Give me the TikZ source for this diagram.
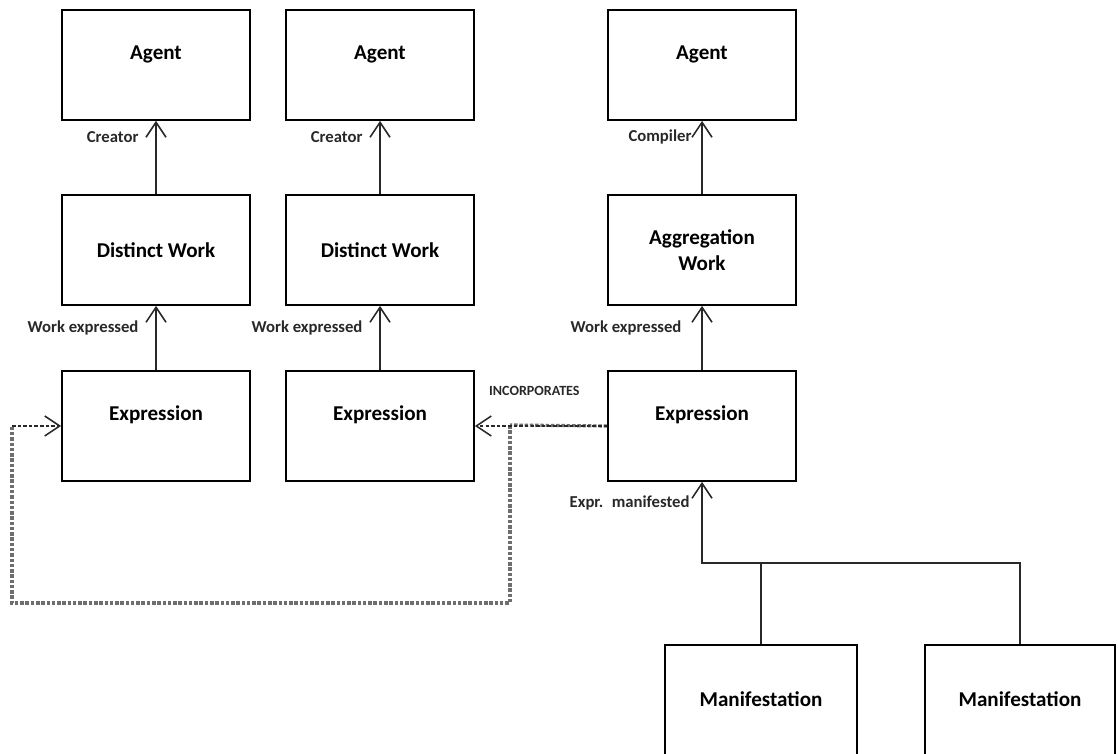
\documentclass[tikz,border=0pt]{standalone}
\usepackage{fontspec}
\setmainfont{Carlito}
\usepackage{tikz}
\usetikzlibrary{positioning, arrows.meta}
\usepackage{xcolor}
\definecolor{inkline}{RGB}{40,40,40}
\definecolor{loopgrey}{RGB}{110,110,110}

\begin{document}
\begin{tikzpicture}[font=\bfseries,
    box/.style={rectangle, draw=black, fill=white, line width=1pt,
                minimum width=3.76cm, minimum height=2.2cm,
                align=center, font=\fontsize{12}{15}\selectfont\bfseries},
    uptext/.style={text depth=0.5cm},
    lbl/.style={font=\fontsize{9.5}{10}\selectfont\bfseries, inner sep=1pt},
    rel/.style={-{Straight Barb[length=3mm, width=4mm]}, color=inkline, line width=0.9pt},
    incorp/.style={-{Straight Barb[length=3mm, width=4mm]}, color=inkline,
                   line width=0.9pt, dash pattern=on 2pt off 1.2pt},
    loopline/.style={color=loopgrey, line width=1.8pt, dash pattern=on 2pt off 1pt},
]
\path[use as bounding box, clip] (0,0) rectangle (22.36,-15.08);

% ─── Agents (top row) ────────────────────────────────────────────
\node[box, uptext] (ag1) at (3.12, -1.30) {Agent};
\node[box, uptext] (ag2) at (7.60, -1.30) {Agent};
\node[box, uptext] (ag3) at (14.04, -1.30) {Agent};

% ─── Works ───────────────────────────────────────────────────────
\node[box] (dw1) at (3.12, -5.00) {Distinct Work};
\node[box] (dw2) at (7.60, -5.00) {Distinct Work};
\node[box] (aw)  at (14.04, -5.00) {Aggregation\\Work};

% ─── Expressions ─────────────────────────────────────────────────
\node[box, uptext] (ex1) at (3.12, -8.52) {Expression};
\node[box, uptext] (ex2) at (7.60, -8.52) {Expression};
\node[box, uptext] (ex3) at (14.04, -8.52) {Expression};

% ─── Manifestations (cut by the bottom edge) ─────────────────────
\node[box, uptext, minimum width=3.84cm, minimum height=2.68cm] (mf1) at (15.22, -14.24) {Manifestation};
\node[box, uptext, minimum width=3.8cm, minimum height=2.68cm]  (mf2) at (20.40, -14.24) {Manifestation};

% ─── Work -> Agent ───────────────────────────────────────────────
\draw[rel] (dw1) -- (ag1) node[pos=0.78, left=0.3cm, lbl] {Creator};
\draw[rel] (dw2) -- (ag2) node[pos=0.78, left=0.3cm, lbl] {Creator};
\draw[rel] (aw)  -- (ag3) node[pos=0.78, left=0.16cm, lbl] {Compiler};

% ─── Expression -> Work ──────────────────────────────────────────
\draw[rel] (ex1) -- (dw1) node[pos=0.66, left=0.3cm, lbl] {Work expressed};
\draw[rel] (ex2) -- (dw2) node[pos=0.66, left=0.3cm, lbl] {Work expressed};
\draw[rel] (ex3) -- (aw)  node[pos=0.66, left=0.36cm, lbl] {Work expressed};

% ─── Manifestation -> Expression ─────────────────────────────────
\coordinate (join) at (14.04, -11.26);
\draw[rel] (mf2.north) |- (join) -- (ex3)
  node[pos=0.74, left=0.2cm, lbl] {Expr.\enspace manifested};
\draw[color=inkline, line width=0.9pt] (mf1.north) -- (mf1.north |- join);

% ─── Incorporates (dashed) ───────────────────────────────────────
\coordinate (split) at (10.20, -8.50);
\coordinate (loop)  at (0.24, -12.06);
\draw[loopline] (split) |- (loop) -- (loop |- ex1.west);
\draw[incorp] (loop |- ex1.west) -- (ex1.west);
\draw[loopline] (ex3.west) -- (split);
\draw[incorp] (ex3.west) -- (ex2.east)
  node[pos=0.55, above=0.55cm, lbl, font=\fontsize{8}{9}\selectfont\bfseries] {INCORPORATES};

\end{tikzpicture}
\end{document}
